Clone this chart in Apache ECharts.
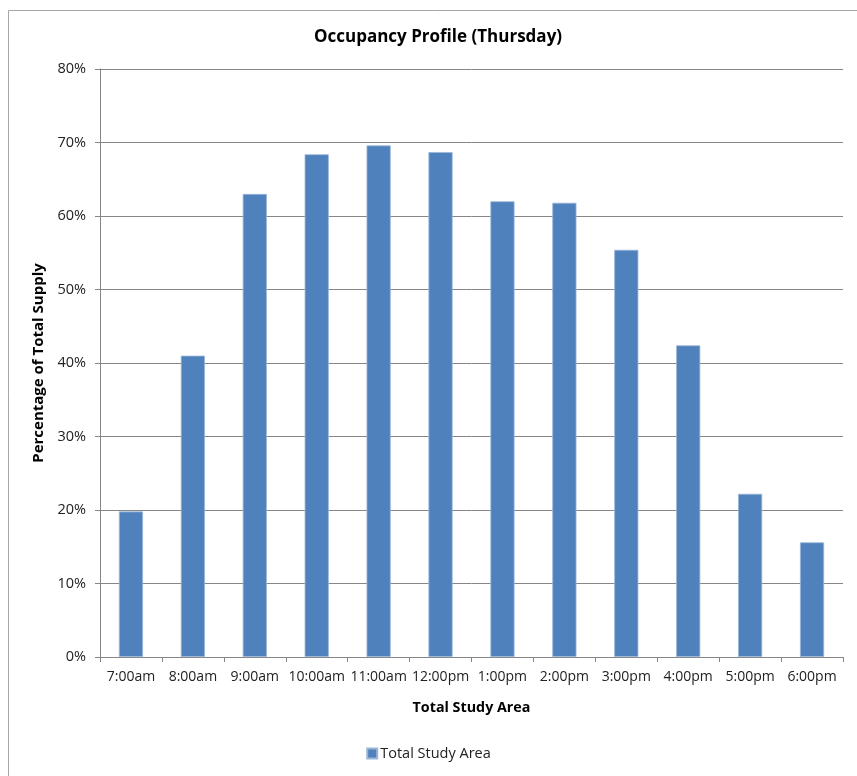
<!DOCTYPE html>
<html>
<head>
<meta charset="utf-8">
<script src="https://cdn.jsdelivr.net/npm/echarts@6/dist/echarts.min.js"></script>
<style>
  html, body { margin: 0; padding: 0; background: #fff; }
  #chart { width: 857px; height: 776px; }
</style>
</head>
<body>
<div id="chart"></div>
<script>
// Hourly occupancy, share of total parking supply (%)
const hours = ['7:00am', '8:00am', '9:00am', '10:00am', '11:00am', '12:00pm',
               '1:00pm', '2:00pm', '3:00pm', '4:00pm', '5:00pm', '6:00pm'];
const occupancy = [19.8, 41.0, 63.0, 68.4, 69.6, 68.7, 62.0, 61.8, 55.4, 42.4, 22.2, 15.6];
const seriesName = 'Total Study Area';

const FONT = '"Open Sans", Lato, sans-serif';
const chart = echarts.init(document.getElementById('chart'), null, { renderer: 'canvas' });

chart.setOption({
  backgroundColor: '#ffffff',
  animation: false,
  graphic: [{
    type: 'rect',
    silent: true,
    shape: { x: 8.5, y: 10.5, width: 900, height: 900 },
    style: { fill: 'none', stroke: '#a6a6a6', lineWidth: 1 }
  }],
  title: {
    text: 'Occupancy Profile (Thursday)',
    left: 433, top: 24, textAlign: 'center',
    textStyle: { fontFamily: FONT, fontSize: 17, fontWeight: 'bold', color: '#000' }
  },
  legend: {
    data: [seriesName],
    bottom: 10, left: 'center',
    itemWidth: 10, itemHeight: 10, itemGap: 4,
    icon: 'rect',
    textStyle: { fontFamily: FONT, fontSize: 14.5, color: '#222', padding: [0, 0, 0, -2] }
  },
  grid: { left: 100, right: 14, top: 69, bottom: 119, containLabel: false },
  xAxis: {
    type: 'category',
    data: hours,
    name: 'Total Study Area',
    nameLocation: 'middle',
    nameGap: 44,
    nameTextStyle: { fontFamily: FONT, fontSize: 14.3, fontWeight: 'bold', color: '#000' },
    axisLine: { lineStyle: { color: '#868686', width: 1 } },
    axisTick: { show: true, alignWithLabel: false, length: 5, lineStyle: { color: '#868686' } },
    axisLabel: { interval: 0, margin: 13, fontFamily: FONT, fontSize: 14, color: '#222' }
  },
  yAxis: {
    type: 'value',
    min: 0, max: 80, interval: 10,
    name: 'Percentage of Total Supply',
    nameLocation: 'middle',
    nameGap: 53,
    nameRotate: 90,
    nameTextStyle: { fontFamily: FONT, fontSize: 15, fontWeight: 'bold', color: '#000' },
    axisLine: { show: true, lineStyle: { color: '#868686', width: 1 } },
    axisTick: { show: true, length: 5, lineStyle: { color: '#868686' } },
    axisLabel: { formatter: '{value}%', margin: 14, fontFamily: FONT, fontSize: 14.5, color: '#222' },
    splitLine: { show: true, lineStyle: { color: '#868686', width: 1 } }
  },
  series: [{
    name: seriesName,
    type: 'bar',
    data: occupancy,
    barWidth: '39%',
    itemStyle: { color: '#4f81bd', borderColor: '#9cb6d8', borderWidth: 0.8 }
  }]
});
</script>
</body>
</html>
